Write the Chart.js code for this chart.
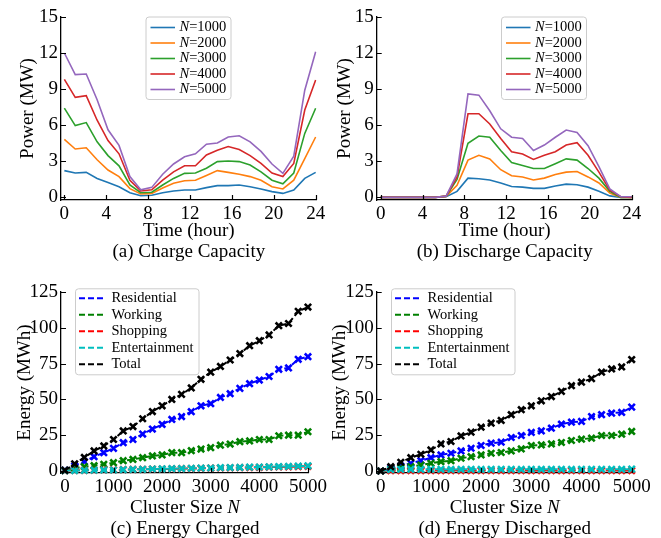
<!DOCTYPE html>
<html>
<head>
<meta charset="utf-8">
<script src="https://cdn.jsdelivr.net/npm/chart.js@4.4.0/dist/chart.umd.min.js"></script>
<style>
  html, body { margin: 0; padding: 0; background: #fff; }
  #wrap { position: relative; width: 661px; height: 538px; overflow: hidden; }
  .panel { position: absolute; }
  .panel canvas { display: block; }
</style>
</head>
<body>
<div id="wrap">
  <div class="panel" style="left:0;top:0"><canvas id="chartA" width="330" height="269"></canvas></div>
  <div class="panel" style="left:330px;top:0"><canvas id="chartB" width="331" height="269"></canvas></div>
  <div class="panel" style="left:0;top:269px"><canvas id="chartC" width="330" height="269"></canvas></div>
  <div class="panel" style="left:330px;top:269px"><canvas id="chartD" width="331" height="269"></canvas></div>
</div>
<script>
// ---- dados ----
const slotTimes = [0, 1.04, 2.09, 3.13, 4.17, 5.22, 6.26, 7.3, 8.35, 9.39, 10.43, 11.48,
                   12.52, 13.57, 14.61, 15.65, 16.7, 17.74, 18.78, 19.83, 20.87, 21.91, 22.96, 24];
const timeTicks = [0, 4, 8, 12, 16, 20, 24];
const powerTicks = [0, 3, 6, 9, 12, 15];
const fleetLabels = ['N=1000', 'N=2000', 'N=3000', 'N=4000', 'N=5000'];

// (a) capacidade de carga (MW)
const chargeN1000 = [2.2, 2.0, 2.05, 1.55, 1.2, 0.86, 0.36, 0.1, 0.15, 0.36, 0.5, 0.58,
                     0.58, 0.78, 0.95, 0.95, 1.0, 0.85, 0.67, 0.45, 0.3, 0.58, 1.55, 2.05];
const chargeN2000 = [4.8, 4.0, 4.1, 3.1, 2.25, 1.7, 0.7, 0.25, 0.3, 0.75, 1.15, 1.35,
                     1.4, 1.8, 2.2, 2.05, 1.9, 1.7, 1.4, 0.85, 0.67, 1.4, 3.2, 5.0];
const chargeN3000 = [7.4, 5.95, 6.2, 4.6, 3.45, 2.6, 1.0, 0.36, 0.4, 1.0, 1.55, 1.97,
                     2.0, 2.4, 2.95, 3.0, 2.95, 2.67, 2.1, 1.4, 1.1, 2.0, 5.3, 7.4];
const chargeN4000 = [9.8, 8.3, 8.45, 6.4, 4.7, 3.6, 1.4, 0.5, 0.6, 1.4, 2.1, 2.6,
                     2.6, 3.5, 3.9, 4.2, 3.95, 3.45, 2.8, 2.0, 1.7, 2.8, 7.25, 9.75];
const chargeN5000 = [12.0, 10.2, 10.25, 8.1, 5.6, 4.3, 1.7, 0.6, 0.8, 1.9, 2.75, 3.35,
                     3.6, 4.4, 4.5, 5.0, 5.1, 4.6, 3.8, 2.75, 1.97, 3.4, 8.9, 12.1];

// (b) capacidade de descarga (MW)
const dischargeN1000 = [0, 0, 0, 0, 0, 0, 0.05, 0.5, 1.6, 1.55, 1.45, 1.2,
                        0.9, 0.85, 0.75, 0.75, 0.95, 1.1, 1.05, 0.85, 0.5, 0.12, 0, 0];
const dischargeN2000 = [0, 0, 0, 0, 0, 0, 0.08, 1.0, 3.1, 3.5, 3.2, 2.3,
                        1.8, 1.7, 1.45, 1.6, 1.9, 2.1, 2.15, 1.7, 1.2, 0.35, 0, 0];
const dischargeN3000 = [0, 0, 0, 0, 0, 0, 0.1, 1.5, 4.5, 5.1, 5.0, 3.9,
                        2.9, 2.65, 2.4, 2.4, 2.8, 3.2, 3.1, 2.4, 1.6, 0.5, 0, 0];
const dischargeN4000 = [0, 0, 0, 0, 0, 0, 0.1, 1.7, 6.95, 6.95, 6.1, 4.9,
                        3.8, 3.6, 3.15, 3.5, 3.8, 4.35, 4.55, 3.5, 2.1, 0.6, 0.05, 0];
const dischargeN5000 = [0, 0, 0, 0, 0, 0, 0.1, 1.95, 8.6, 8.5, 7.2, 5.7,
                        5.0, 4.9, 3.9, 4.35, 5.0, 5.6, 5.4, 4.3, 2.55, 0.7, 0.05, 0.05];

// (c)/(d) energia por tamanho de cluster
const clusterSizes = [0, 200, 400, 600, 800, 1000, 1200, 1400, 1600, 1800, 2000, 2200, 2400,
                      2600, 2800, 3000, 3200, 3400, 3600, 3800, 4000, 4200, 4400, 4600, 4800, 5000];
const sizeTicks = [0, 1000, 2000, 3000, 4000, 5000];
const energyTicks = [0, 25, 50, 75, 100, 125];
const zoneLabels = ['Residential', 'Working', 'Shopping', 'Entertainment', 'Total'];

const chargedResidential = [0.7, 3.5, 6.5, 10, 12.8, 15.8, 19.8, 22, 25.8, 29.3, 32.5, 36, 38,
                            41.4, 45.5, 47, 51.4, 54, 57.7, 61, 63.5, 66, 71, 72, 78, 79.8];
const chargedWorking = [0.5, 1.9, 3, 3.7, 4.7, 5.8, 7.2, 8.1, 9.3, 10.5, 11.2, 12.8, 12.8,
                        14.2, 15.3, 16.3, 18, 18.8, 20.5, 21, 22, 22, 24.6, 25, 25, 27.4];
const chargedShopping = [0.3, 0.4, 0.5, 0.6, 0.8, 0.8, 1.0, 1.1, 1.2, 1.3, 1.4, 1.5, 1.6,
                         1.7, 1.9, 2.0, 2.1, 2.2, 2.3, 2.4, 2.5, 2.7, 2.8, 2.9, 3.0, 3.2];
const chargedEntertainment = [0.2, 0.3, 0.4, 0.6, 0.7, 0.7, 0.9, 1.1, 1.2, 1.4, 1.5, 1.6, 1.7,
                              1.9, 2.0, 2.1, 2.3, 2.4, 2.5, 2.7, 2.8, 2.9, 3.1, 3.2, 3.4, 3.6];
const chargedTotal = [0.5, 5, 9.5, 14, 17.5, 22, 28, 31, 36.5, 41.5, 45.5, 50, 53.5,
                      58, 64, 69, 73, 77.5, 82, 87.5, 91, 95, 101.5, 103, 111.5, 114.5];

const dischargedResidential = [0, 1.9, 3.5, 5.4, 7.2, 9.3, 11.2, 12.4, 14, 15.9, 17.8, 19.4, 20.1,
                               23.4, 24.8, 26.9, 28, 29.9, 32.7, 34.1, 34.6, 38, 39.3, 40.4, 40.9, 44.6];
const dischargedWorking = [0, 1.2, 2.3, 3, 4.2, 5.4, 6.5, 7.2, 8.9, 10, 11.2, 12.4, 12.9,
                           14, 15.4, 17.8, 18.2, 18.9, 19.9, 21.3, 22.2, 22.9, 24.8, 24.8, 25.7, 27.6];
const dischargedShopping = [0, 0.2, 0.2, 0.3, 0.2, 0.3, 0.2, 0.3, 0.3, 0.2, 0.3, 0.3, 0.2,
                            0.3, 0.3, 0.2, 0.3, 0.3, 0.2, 0.3, 0.3, 0.2, 0.3, 0.3, 0.2, 0.3];
const dischargedEntertainment = [0, 1.0, 1.1, 1.2, 1.1, 1.2, 1.2, 1.1, 1.2, 1.2, 1.1, 1.2, 1.2,
                                 1.2, 1.1, 1.2, 1.2, 1.2, 1.2, 1.1, 1.2, 1.2, 1.2, 1.2, 1.2, 1.3];
const dischargedTotal = [0, 3, 6.1, 9.3, 11.7, 14.7, 18.9, 20.6, 24.5, 27.1, 30.6, 33.4, 35.3,
                         39.3, 42.8, 45.5, 49, 52, 55.6, 59.6, 62, 64.5, 69, 71.3, 72.7, 77.8];

// ---- estilo ----
const SERIF = '"Liberation Serif", "Times New Roman", serif';
const tab10 = ['#1f77b4', '#ff7f0e', '#2ca02c', '#d62728', '#9467bd'];
const zoneColors = ['#0000ff', '#008000', '#ff0000', '#00bfbf', '#000000'];

function pairs(xs, ys) {
    return ys.map((v, i) => ({ x: xs[i], y: v }));
}

// texto com partes em itálico: [['N', true], ['=1000', false]]
function drawParts(ctx, parts, x, y, align, size) {
    const fontOf = it => (it ? 'italic ' : '') + size + 'px ' + SERIF;
    let total = 0;
    parts.forEach(p => { ctx.font = fontOf(p[1]); total += ctx.measureText(p[0]).width; });
    let cx = align === 'center' ? x - total / 2 : x;
    ctx.textBaseline = 'middle';
    ctx.textAlign = 'left';
    parts.forEach(p => {
        ctx.font = fontOf(p[1]);
        ctx.fillText(p[0], cx, y);
        cx += ctx.measureText(p[0]).width;
    });
}

function labelParts(label) {
    if (label.startsWith('N=')) return [['N', true], [label.slice(1), false]];
    return [[label, false]];
}

// ticks para dentro, legenda dentro do gráfico e títulos estilo artigo
function paperPlugin(spec) {
    return {
        id: 'paper',
        afterDatasetsDraw(chart) {
            const ctx = chart.ctx, area = chart.chartArea;
            const sx = chart.scales.x, sy = chart.scales.y;
            ctx.save();
            ctx.strokeStyle = '#000';
            ctx.lineWidth = 1.2;
            ctx.beginPath();
            sx.ticks.forEach(t => {
                const px = Math.round(sx.getPixelForValue(t.value)) + 0.5;
                ctx.moveTo(px, area.bottom);
                ctx.lineTo(px, area.bottom - 5);
            });
            sy.ticks.forEach(t => {
                const py = Math.round(sy.getPixelForValue(t.value)) + 0.5;
                ctx.moveTo(area.left, py);
                ctx.lineTo(area.left + 5, py);
            });
            ctx.stroke();

            // legenda
            const lg = spec.legend;
            ctx.beginPath();
            ctx.roundRect(lg.x + 0.5, lg.y + 0.5, lg.w, lg.h, 3);
            ctx.fillStyle = 'rgba(255,255,255,0.85)';
            ctx.fill();
            ctx.strokeStyle = '#cccccc';
            ctx.lineWidth = 1;
            ctx.stroke();
            chart.data.datasets.forEach((ds, i) => {
                const cy = lg.y + lg.first + i * lg.gap;
                ctx.beginPath();
                ctx.setLineDash(ds.borderDash || []);
                ctx.strokeStyle = ds.borderColor;
                ctx.lineWidth = ds.borderWidth;
                ctx.moveTo(lg.x + lg.lineAt, cy);
                ctx.lineTo(lg.x + lg.lineAt + lg.lineLen, cy);
                ctx.stroke();
                ctx.setLineDash([]);
                ctx.fillStyle = '#000';
                drawParts(ctx, labelParts(ds.label), lg.x + lg.textAt, cy, 'left', 14.5);
            });

            // títulos
            const midX = (area.left + area.right) / 2;
            const midY = (area.top + area.bottom) / 2;
            ctx.fillStyle = '#000';
            ctx.save();
            ctx.translate(area.left - spec.yTitleGap, midY);
            ctx.rotate(-Math.PI / 2);
            drawParts(ctx, [[spec.yTitle, false]], 0, 0, 'center', 19);
            ctx.restore();
            drawParts(ctx, spec.xTitle, midX, area.bottom + spec.xTitleGap, 'center', 19);
            drawParts(ctx, [[spec.caption, false]], midX, area.bottom + spec.captionGap, 'center', 19);
            ctx.restore();
        }
    };
}

function axis(min, max, tickValues, fit) {
    return {
        type: 'linear',
        min: min,
        max: max,
        afterFit: fit,
        afterBuildTicks: s => { s.ticks = tickValues.map(v => ({ value: v })); },
        grid: { drawOnChartArea: false, drawTicks: false },
        border: { display: true, color: '#000', width: 1.3 },
        ticks: {
            color: '#000',
            padding: 3,
            maxRotation: 0,
            autoSkip: false,
            font: { family: SERIF, size: 19 },
            callback: v => String(v)
        }
    };
}

function buildPanel(id, spec) {
    const canvas = document.getElementById(id);
    const W = canvas.width, H = canvas.height, a = spec.area;
    return new Chart(canvas, {
        type: 'line',
        data: { datasets: spec.datasets },
        options: {
            responsive: false,
            animation: false,
            events: [],
            layout: { autoPadding: false, padding: { left: 0, top: a.top, right: W - a.right, bottom: 0 } },
            plugins: { legend: { display: false }, tooltip: { enabled: false } },
            scales: {
                x: axis(spec.xRange[0], spec.xRange[1], spec.xTicks, s => { s.height = H - a.bottom; }),
                y: axis(spec.yRange[0], spec.yRange[1], spec.yTicks, s => { s.width = a.left; })
            }
        },
        plugins: [paperPlugin(spec)]
    });
}

function powerSets(series) {
    return series.map((vals, i) => ({
        label: fleetLabels[i],
        data: pairs(slotTimes, vals),
        borderColor: tab10[i],
        borderWidth: 1.6,
        pointRadius: 0,
        fill: false,
        tension: 0,
        order: series.length - i
    }));
}

function energySets(series) {
    return series.map((vals, i) => ({
        label: zoneLabels[i],
        data: pairs(clusterSizes, vals),
        borderColor: zoneColors[i],
        borderWidth: 2,
        borderDash: [6, 3],
        pointStyle: 'crossRot',
        pointRadius: 4.5,
        pointBorderWidth: 2.6,
        pointBorderColor: zoneColors[i],
        pointBackgroundColor: zoneColors[i],
        fill: false,
        tension: 0,
        clip: false,
        order: series.length - i
    }));
}

const topLegend = { w: 85, h: 82.5, first: 11, gap: 15.5, lineAt: 5, lineLen: 24.5, textAt: 34 };
const bottomLegend = { w: 123.5, h: 86, first: 10, gap: 16.5, lineAt: 4, lineLen: 26, textAt: 36.5 };

function initCharts() {
    buildPanel('chartA', {
        area: { left: 61, right: 316.7, top: 17, bottom: 200 },
        xRange: [-0.32, 24.1], yRange: [-0.25, 15],
        xTicks: timeTicks, yTicks: powerTicks,
        datasets: powerSets([chargeN1000, chargeN2000, chargeN3000, chargeN4000, chargeN5000]),
        legend: Object.assign({ x: 145.5, y: 16.5 }, topLegend),
        yTitle: 'Power (MW)', yTitleGap: 33,
        xTitle: [['Time (hour)', false]], xTitleGap: 31.5,
        caption: '(a) Charge Capacity', captionGap: 52.5
    });
    buildPanel('chartB', {
        area: { left: 46.7, right: 302.7, top: 17, bottom: 200 },
        xRange: [-0.38, 24.1], yRange: [-0.22, 15],
        xTicks: timeTicks, yTicks: powerTicks,
        datasets: powerSets([dischargeN1000, dischargeN2000, dischargeN3000, dischargeN4000, dischargeN5000]),
        legend: Object.assign({ x: 171, y: 16.5 }, topLegend),
        yTitle: 'Power (MW)', yTitleGap: 32,
        xTitle: [['Time (hour)', false]], xTitleGap: 31.5,
        caption: '(b) Discharge Capacity', captionGap: 52.5
    });
    buildPanel('chartC', {
        area: { left: 61, right: 316, top: 23, bottom: 204 },
        xRange: [-80, 5020], yRange: [-1.4, 125],
        xTicks: sizeTicks, yTicks: energyTicks,
        datasets: energySets([chargedResidential, chargedWorking, chargedShopping, chargedEntertainment, chargedTotal]),
        legend: Object.assign({ x: 75, y: 19.3 }, bottomLegend),
        yTitle: 'Energy (MWh)', yTitleGap: 36,
        xTitle: [['Cluster Size ', false], ['N', true]], xTitleGap: 35,
        caption: '(c) Energy Charged', captionGap: 56
    });
    buildPanel('chartD', {
        area: { left: 46.7, right: 302.7, top: 23, bottom: 204 },
        xRange: [-80, 5020], yRange: [-1.4, 125],
        xTicks: sizeTicks, yTicks: energyTicks,
        datasets: energySets([dischargedResidential, dischargedWorking, dischargedShopping, dischargedEntertainment, dischargedTotal]),
        legend: Object.assign({ x: 61, y: 19.3 }, bottomLegend),
        yTitle: 'Energy (MWh)', yTitleGap: 37,
        xTitle: [['Cluster Size ', false], ['N', true]], xTitleGap: 35,
        caption: '(d) Energy Discharged', captionGap: 56
    });
}

document.addEventListener('DOMContentLoaded', initCharts);
</script>
</body>
</html>
